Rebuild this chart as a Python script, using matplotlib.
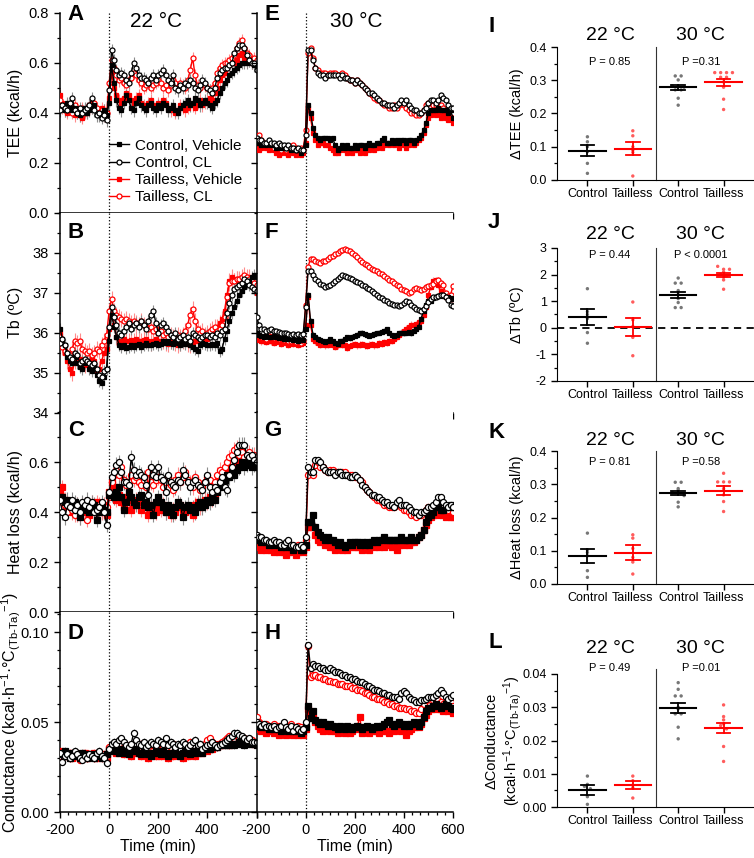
import numpy as np
import matplotlib
matplotlib.use("Agg")
import matplotlib.pyplot as plt
from matplotlib.ticker import MultipleLocator, AutoMinorLocator, FormatStrFormatter

plt.rcParams['font.family'] = ['Liberation Sans', 'DejaVu Sans']
plt.rcParams['mathtext.fontset'] = 'custom'
plt.rcParams['mathtext.rm'] = 'Liberation Sans'
plt.rcParams['mathtext.it'] = 'Liberation Sans:italic'
plt.rcParams['axes.unicode_minus'] = False

# ---------------- time course data (10-min bins, -200..600 min) ----------------
time_min = np.arange(-200, 601, 10)

# TEE, 22 °C
tee22_ctl_veh = [0.42,0.43,0.41,0.44,0.42,0.41,0.42,0.40,0.39,0.41,0.42,0.40,0.41,0.42,0.43,0.40,0.39,0.40,0.41,0.39,
                 0.44,
                 0.59,0.52,0.45,0.42,0.41,0.44,0.47,0.45,0.42,0.41,
                 0.44,0.46,0.43,0.42,0.41,0.43,0.44,0.42,0.41,0.43,
                 0.42,0.44,0.43,0.41,0.42,0.43,0.41,0.40,0.42,0.43,
                 0.44,0.45,0.43,0.44,0.46,0.45,0.43,0.44,0.45,0.44,
                 0.43,0.42,0.44,0.45,0.48,0.50,0.52,0.53,0.55,0.56,
                 0.57,0.58,0.59,0.60,0.60,0.60,0.61,0.60,0.59,0.59]
tee22_ctl_cl = [0.41,0.43,0.42,0.41,0.44,0.46,0.41,0.40,0.42,0.40,0.41,0.42,0.43,0.46,0.41,0.39,0.40,0.38,0.39,0.37,
                0.49,
                0.65,0.61,0.57,0.55,0.56,0.55,0.53,0.52,0.56,0.60,
                0.58,0.55,0.54,0.54,0.53,0.52,0.54,0.55,0.53,0.55,
                0.56,0.57,0.55,0.53,0.52,0.55,0.50,0.49,0.51,0.50,
                0.52,0.51,0.53,0.52,0.50,0.49,0.51,0.53,0.52,0.50,
                0.49,0.48,0.50,0.54,0.56,0.57,0.58,0.58,0.59,0.60,
                0.64,0.66,0.67,0.67,0.66,0.63,0.61,0.60,0.60,0.57]
tee22_tl_veh = [0.47,0.44,0.42,0.40,0.43,0.41,0.39,0.42,0.40,0.38,0.41,0.40,0.42,0.44,0.43,0.41,0.40,0.42,0.41,0.40,
                0.46,
                0.56,0.50,0.47,0.45,0.44,0.46,0.48,0.47,0.45,0.44,
                0.46,0.47,0.44,0.43,0.42,0.44,0.45,0.43,0.42,0.44,
                0.43,0.45,0.44,0.42,0.41,0.42,0.40,0.41,0.43,0.42,
                0.41,0.42,0.44,0.43,0.42,0.44,0.45,0.43,0.44,0.45,
                0.46,0.45,0.48,0.50,0.53,0.55,0.56,0.58,0.59,0.60,
                0.60,0.61,0.63,0.64,0.62,0.61,0.62,0.60,0.61,0.60]
tee22_tl_cl = [0.45,0.42,0.41,0.43,0.42,0.40,0.43,0.41,0.39,0.42,0.40,0.41,0.43,0.42,0.44,0.42,0.40,0.41,0.39,0.40,
               0.52,
               0.61,0.58,0.55,0.53,0.54,0.52,0.51,0.53,0.54,0.56,
               0.55,0.53,0.52,0.50,0.51,0.52,0.50,0.51,0.52,0.53,
               0.52,0.50,0.51,0.49,0.51,0.53,0.52,0.50,0.52,0.51,
               0.50,0.53,0.57,0.62,0.55,0.51,0.50,0.52,0.51,0.50,
               0.49,0.50,0.52,0.56,0.58,0.59,0.60,0.60,0.61,0.62,
               0.63,0.66,0.68,0.69,0.66,0.64,0.63,0.61,0.62,0.61]

# TEE, 30 °C
tee30_ctl_veh = [0.28,0.28,0.27,0.28,0.27,0.28,0.27,0.27,0.26,0.27,0.26,0.26,0.27,0.26,0.25,0.26,0.25,0.25,0.24,0.25,
                 0.27,
                 0.43,0.40,0.34,0.31,0.30,0.29,0.30,0.30,0.30,0.29,
                 0.30,0.27,0.25,0.26,0.27,0.26,0.27,0.26,0.26,0.27,
                 0.26,0.27,0.27,0.26,0.27,0.28,0.27,0.27,0.28,0.28,
                 0.29,0.30,0.28,0.28,0.29,0.28,0.29,0.28,0.29,0.29,
                 0.28,0.29,0.29,0.28,0.29,0.30,0.31,0.33,0.36,0.40,
                 0.41,0.41,0.41,0.42,0.41,0.41,0.41,0.40,0.41,0.38]
tee30_ctl_cl = [0.30,0.29,0.29,0.28,0.28,0.29,0.28,0.28,0.27,0.28,0.27,0.27,0.26,0.27,0.26,0.26,0.25,0.26,0.25,0.25,
                0.31,
                0.65,0.65,0.61,0.58,0.56,0.55,0.55,0.54,0.55,0.55,
                0.55,0.55,0.55,0.54,0.55,0.54,0.54,0.53,0.53,0.52,
                0.53,0.52,0.51,0.50,0.49,0.48,0.48,0.47,0.46,0.45,
                0.44,0.44,0.43,0.43,0.43,0.42,0.43,0.44,0.45,0.44,
                0.45,0.43,0.42,0.41,0.41,0.40,0.40,0.41,0.42,0.44,
                0.45,0.45,0.44,0.45,0.47,0.46,0.45,0.43,0.42,0.42]
tee30_tl_veh = [0.27,0.25,0.26,0.27,0.26,0.25,0.26,0.25,0.24,0.23,0.24,0.25,0.24,0.23,0.25,0.24,0.23,0.24,0.23,0.24,
                0.28,
                0.42,0.38,0.32,0.29,0.27,0.28,0.28,0.27,0.27,0.26,
                0.25,0.24,0.24,0.25,0.26,0.25,0.24,0.25,0.24,0.25,
                0.25,0.24,0.25,0.24,0.26,0.25,0.26,0.25,0.26,0.27,
                0.26,0.27,0.28,0.27,0.28,0.27,0.28,0.26,0.28,0.27,
                0.26,0.27,0.28,0.27,0.28,0.29,0.30,0.32,0.35,0.38,
                0.39,0.40,0.39,0.40,0.38,0.39,0.38,0.37,0.38,0.36]
tee30_tl_cl = [0.30,0.31,0.29,0.28,0.27,0.28,0.27,0.26,0.27,0.26,0.25,0.26,0.25,0.26,0.25,0.27,0.26,0.25,0.26,0.25,
               0.33,
               0.64,0.66,0.62,0.58,0.57,0.56,0.56,0.56,0.55,0.56,
               0.56,0.56,0.55,0.55,0.56,0.55,0.54,0.53,0.53,0.52,
               0.53,0.52,0.51,0.50,0.49,0.48,0.47,0.46,0.45,0.45,
               0.44,0.43,0.43,0.42,0.42,0.43,0.42,0.43,0.44,0.43,
               0.42,0.41,0.40,0.40,0.39,0.39,0.40,0.41,0.43,0.44,
               0.44,0.43,0.43,0.42,0.43,0.42,0.41,0.40,0.41,0.40]

# Tb, 22 °C
tb22_ctl_veh = [36.10,35.85,35.70,35.40,35.30,35.25,35.40,35.25,35.15,35.10,35.25,35.30,35.10,35.05,35.15,34.95,34.80,34.75,34.90,35.10,
                35.80,
                36.45,36.15,35.90,35.70,35.65,35.70,35.62,35.65,35.70,35.65,
                35.68,35.72,35.65,35.70,35.75,35.70,35.68,35.72,35.75,35.70,
                35.72,35.78,35.74,35.80,35.75,35.72,35.78,35.74,35.70,35.76,
                35.72,35.80,35.68,35.65,35.60,35.55,35.70,35.75,35.72,35.68,
                35.70,35.72,35.68,35.75,35.55,35.60,35.85,36.05,36.30,36.50,
                36.65,36.80,36.95,37.05,37.15,37.25,37.30,37.40,37.45,37.40]
tb22_ctl_cl = [35.75,35.85,35.70,35.50,35.40,35.35,35.50,35.45,35.25,35.30,35.35,35.30,35.25,35.20,35.25,35.10,34.95,34.90,35.05,35.10,
               36.15,
               36.65,36.40,36.20,36.00,35.95,36.05,36.15,36.25,36.10,36.20,
               36.25,36.15,36.30,36.20,36.10,36.30,36.45,36.55,36.25,36.00,
               36.20,36.25,36.15,36.05,35.95,35.90,36.00,35.85,35.90,35.95,
               35.85,35.90,35.80,36.00,35.95,35.90,35.85,35.90,35.95,35.95,
               35.90,35.95,35.90,36.00,35.95,36.05,36.10,36.50,36.75,36.95,
               37.10,37.15,37.20,37.25,37.35,37.30,37.20,37.15,37.10,37.05]
tb22_tl_veh = [36.00,35.70,35.50,35.30,35.10,35.00,35.30,35.40,35.35,35.30,35.20,35.25,35.30,35.40,35.30,35.05,35.10,35.30,35.50,35.60,
               36.10,
               36.60,36.20,35.90,35.80,35.75,35.85,35.80,35.78,35.82,35.80,
               35.85,35.80,35.78,35.82,35.85,35.80,35.75,35.80,35.85,35.80,
               35.78,35.80,35.75,35.72,35.80,35.78,35.74,35.70,35.75,35.80,
               35.78,35.72,35.70,35.75,35.80,35.78,35.85,35.80,35.90,35.85,
               35.95,36.00,36.05,36.15,36.25,36.35,36.55,36.95,37.30,37.40,
               37.30,37.35,37.30,37.35,37.30,37.35,37.40,37.30,37.15,37.00]
tb22_tl_cl = [35.90,35.65,35.55,35.50,35.45,35.60,35.80,35.75,35.80,35.60,35.55,35.50,35.55,35.45,35.50,35.60,35.55,35.70,35.80,35.95,
              36.55,
              36.85,36.55,36.45,36.40,36.35,36.30,36.35,36.30,36.25,36.30,
              36.25,36.20,36.30,36.20,36.15,36.10,36.15,36.05,36.10,36.00,
              36.05,35.95,36.00,35.90,35.95,35.90,35.85,35.95,35.90,35.95,
              36.05,36.20,36.45,36.60,36.30,36.10,36.00,36.05,35.95,36.00,
              36.05,36.10,36.15,36.05,36.10,36.20,36.40,36.90,37.25,37.30,
              37.30,37.35,37.35,37.40,37.45,37.40,37.35,37.30,37.25,37.20]

# Tb, 30 °C
tb30_ctl_veh = [36.00,35.95,35.92,35.90,35.92,35.88,35.90,35.92,35.88,35.86,35.88,35.85,35.87,35.84,35.86,35.82,35.84,35.80,35.83,35.82,
                36.10,
                36.95,36.30,35.95,35.90,35.85,35.82,35.78,35.76,35.80,35.83,
                35.78,35.75,35.72,35.78,35.80,35.85,35.88,35.86,35.90,35.92,
                35.95,35.98,36.00,35.96,35.94,35.92,35.95,35.97,35.98,36.00,
                36.02,36.05,36.08,36.00,35.94,35.92,35.95,35.98,36.00,35.98,
                36.00,36.02,35.98,36.05,36.10,36.15,36.35,36.55,36.70,36.78,
                36.80,36.86,36.90,36.92,36.95,36.92,36.90,36.88,36.86,36.83]
tb30_ctl_cl = [36.40,36.20,36.10,36.08,36.05,36.06,36.08,36.05,36.04,36.02,36.00,35.98,35.98,35.96,35.95,35.96,35.95,35.96,35.95,35.97,
               36.65,
               37.55,37.55,37.45,37.35,37.28,37.22,37.18,37.15,37.16,37.20,
               37.24,37.28,37.33,37.38,37.43,37.42,37.40,37.36,37.34,37.30,
               37.27,37.24,37.20,37.16,37.12,37.08,37.03,36.99,36.95,36.90,
               36.86,36.82,36.78,36.75,36.72,36.70,36.68,36.67,36.69,36.73,
               36.78,36.76,36.70,36.65,36.60,36.57,36.54,36.58,36.66,36.76,
               36.84,36.88,36.90,36.92,36.95,36.94,36.90,36.82,36.68,36.66]
tb30_tl_veh = [35.85,35.82,35.78,35.80,35.76,35.80,35.78,35.74,35.76,35.78,35.72,35.76,35.74,35.70,35.75,35.72,35.74,35.70,35.72,35.74,
               36.20,
               36.90,36.20,35.85,35.78,35.75,35.70,35.72,35.68,35.70,35.72,
               35.70,35.65,35.68,35.72,35.70,35.68,35.62,35.66,35.70,35.72,
               35.68,35.70,35.72,35.68,35.66,35.70,35.72,35.68,35.70,35.74,
               35.72,35.76,35.74,35.78,35.80,35.85,35.90,35.95,36.00,36.05,
               36.10,36.15,36.20,36.18,36.22,36.26,36.30,36.45,36.65,36.95,
               37.15,37.30,37.32,37.18,37.05,36.95,36.90,36.88,36.85,36.83]
tb30_tl_cl = [35.95,35.92,35.88,35.90,35.85,35.92,35.88,35.86,35.90,35.84,35.88,35.82,35.85,35.80,35.78,35.82,35.76,35.80,35.75,35.78,
              36.70,
              37.65,37.85,37.85,37.80,37.76,37.74,37.78,37.80,37.84,37.88,
              37.92,37.96,38.00,38.04,38.08,38.10,38.08,38.05,38.00,37.95,
              37.88,37.82,37.76,37.72,37.68,37.64,37.60,37.57,37.53,37.50,
              37.46,37.42,37.36,37.32,37.29,37.25,37.20,37.16,37.10,37.07,
              37.03,36.99,37.02,37.10,37.12,37.08,37.06,37.10,37.15,37.16,
              37.18,37.22,37.28,37.32,37.25,37.18,37.00,36.92,36.95,37.16]

# Heat loss, 22 °C
hl22_ctl_veh = [0.46,0.46,0.44,0.45,0.43,0.42,0.44,0.41,0.38,0.42,0.43,0.41,0.40,0.42,0.43,0.37,0.40,0.42,0.41,0.40,
                0.47,
                0.47,0.46,0.48,0.50,0.46,0.41,0.44,0.48,0.46,0.44,
                0.43,0.46,0.47,0.43,0.44,0.42,0.43,0.39,0.44,0.46,
                0.44,0.42,0.40,0.43,0.41,0.39,0.42,0.44,0.43,0.38,
                0.42,0.43,0.41,0.42,0.40,0.43,0.44,0.42,0.43,0.45,
                0.44,0.46,0.45,0.48,0.50,0.52,0.53,0.55,0.54,0.56,
                0.55,0.57,0.58,0.60,0.58,0.59,0.60,0.58,0.59,0.58]
hl22_ctl_cl = [0.45,0.40,0.38,0.43,0.42,0.45,0.41,0.43,0.40,0.44,0.43,0.45,0.42,0.44,0.40,0.41,0.42,0.44,0.40,0.35,
               0.48,
               0.54,0.56,0.59,0.60,0.56,0.52,0.52,0.51,0.62,0.57,
               0.55,0.56,0.55,0.54,0.51,0.47,0.58,0.55,0.54,0.58,
               0.54,0.53,0.48,0.55,0.52,0.51,0.50,0.53,0.52,0.57,
               0.55,0.52,0.50,0.52,0.53,0.51,0.50,0.49,0.52,0.55,
               0.50,0.48,0.50,0.49,0.52,0.54,0.50,0.49,0.55,0.58,
               0.61,0.64,0.67,0.67,0.67,0.63,0.62,0.63,0.61,0.60]
hl22_tl_veh = [0.48,0.50,0.45,0.41,0.43,0.40,0.42,0.39,0.41,0.43,0.40,0.42,0.39,0.43,0.42,0.44,0.40,0.41,0.43,0.39,
               0.48,
               0.52,0.50,0.45,0.47,0.44,0.42,0.46,0.45,0.41,0.43,
               0.45,0.44,0.41,0.43,0.42,0.39,0.43,0.41,0.40,0.42,
               0.41,0.43,0.40,0.42,0.39,0.41,0.40,0.42,0.43,0.41,
               0.40,0.42,0.41,0.39,0.43,0.44,0.42,0.43,0.45,0.44,
               0.46,0.45,0.47,0.50,0.52,0.55,0.54,0.56,0.58,0.57,
               0.58,0.60,0.62,0.64,0.61,0.60,0.62,0.61,0.60,0.59]
hl22_tl_cl = [0.42,0.44,0.43,0.40,0.42,0.41,0.39,0.43,0.38,0.42,0.43,0.37,0.41,0.44,0.40,0.42,0.43,0.40,0.41,0.42,
              0.46,
              0.52,0.55,0.57,0.55,0.58,0.53,0.51,0.52,0.55,0.53,
              0.54,0.52,0.51,0.53,0.50,0.56,0.52,0.51,0.53,0.54,
              0.53,0.50,0.52,0.54,0.51,0.49,0.53,0.55,0.52,0.54,
              0.56,0.53,0.52,0.50,0.54,0.52,0.49,0.50,0.52,0.54,
              0.53,0.50,0.52,0.55,0.57,0.56,0.58,0.60,0.62,0.63,
              0.65,0.66,0.63,0.64,0.62,0.63,0.64,0.62,0.63,0.62]

# Heat loss, 30 °C
hl30_ctl_veh = [0.29,0.29,0.28,0.29,0.28,0.27,0.28,0.27,0.28,0.27,0.26,0.27,0.26,0.27,0.26,0.25,0.26,0.26,0.25,0.25,
                0.27,
                0.36,0.36,0.39,0.34,0.32,0.31,0.30,0.29,0.30,0.29,
                0.29,0.28,0.27,0.28,0.27,0.26,0.27,0.28,0.27,0.28,
                0.28,0.27,0.28,0.27,0.28,0.27,0.28,0.29,0.28,0.29,
                0.29,0.30,0.29,0.29,0.29,0.29,0.29,0.29,0.30,0.29,
                0.29,0.29,0.30,0.29,0.29,0.30,0.31,0.33,0.36,0.38,
                0.39,0.40,0.42,0.42,0.41,0.41,0.42,0.42,0.43,0.42]
hl30_ctl_cl = [0.31,0.30,0.30,0.29,0.29,0.28,0.28,0.29,0.28,0.28,0.27,0.27,0.28,0.29,0.27,0.27,0.26,0.26,0.27,0.26,
               0.30,
               0.58,0.56,0.56,0.61,0.61,0.60,0.58,0.57,0.56,0.56,
               0.56,0.55,0.56,0.56,0.55,0.55,0.55,0.54,0.54,0.55,
               0.54,0.53,0.51,0.50,0.49,0.48,0.47,0.47,0.46,0.46,
               0.45,0.44,0.44,0.43,0.43,0.42,0.44,0.45,0.43,0.43,
               0.43,0.42,0.41,0.40,0.40,0.39,0.40,0.40,0.41,0.42,
               0.42,0.43,0.44,0.46,0.46,0.44,0.43,0.42,0.43,0.42]
hl30_tl_veh = [0.27,0.26,0.25,0.26,0.25,0.26,0.25,0.24,0.25,0.24,0.25,0.24,0.23,0.24,0.25,0.24,0.23,0.24,0.25,0.24,
               0.26,
               0.34,0.34,0.34,0.31,0.29,0.28,0.29,0.27,0.27,0.26,
               0.26,0.25,0.27,0.26,0.25,0.26,0.25,0.26,0.27,0.26,
               0.26,0.27,0.25,0.27,0.26,0.25,0.27,0.26,0.27,0.26,
               0.27,0.26,0.28,0.27,0.26,0.28,0.25,0.27,0.28,0.27,
               0.28,0.27,0.28,0.28,0.29,0.30,0.31,0.33,0.35,0.37,
               0.38,0.39,0.40,0.39,0.40,0.39,0.38,0.39,0.38,0.38]
hl30_tl_cl = [0.30,0.29,0.29,0.28,0.28,0.27,0.27,0.28,0.27,0.26,0.27,0.26,0.27,0.28,0.27,0.26,0.26,0.27,0.26,0.27,
              0.29,
              0.55,0.56,0.55,0.59,0.60,0.58,0.58,0.57,0.56,0.57,
              0.57,0.56,0.56,0.56,0.56,0.56,0.55,0.55,0.55,0.54,
              0.54,0.53,0.52,0.50,0.49,0.48,0.47,0.46,0.45,0.45,
              0.44,0.43,0.43,0.42,0.42,0.42,0.43,0.43,0.42,0.41,
              0.41,0.40,0.39,0.39,0.38,0.39,0.39,0.40,0.41,0.42,
              0.41,0.42,0.42,0.43,0.42,0.41,0.42,0.41,0.42,0.40]

# Conductance, 22 °C
cd22_ctl_veh = [0.033,0.032,0.034,0.031,0.030,0.033,0.032,0.031,0.030,0.033,0.032,0.030,0.031,0.032,0.030,0.031,0.032,0.030,0.031,0.032,
                0.034,
                0.036,0.035,0.034,0.033,0.035,0.034,0.033,0.032,0.034,0.035,
                0.034,0.033,0.032,0.034,0.033,0.032,0.031,0.033,0.034,0.033,
                0.032,0.034,0.033,0.031,0.032,0.033,0.034,0.032,0.031,0.033,
                0.034,0.033,0.032,0.034,0.033,0.035,0.034,0.033,0.035,0.036,
                0.035,0.036,0.037,0.036,0.037,0.038,0.037,0.038,0.037,0.038,
                0.037,0.038,0.039,0.038,0.037,0.038,0.039,0.038,0.038,0.037]
cd22_ctl_cl = [0.033,0.028,0.031,0.032,0.030,0.031,0.034,0.032,0.030,0.029,0.031,0.030,0.032,0.031,0.030,0.033,0.034,0.031,0.030,0.027,
               0.035,
               0.038,0.039,0.038,0.040,0.041,0.039,0.037,0.036,0.038,0.044,
               0.040,0.038,0.037,0.039,0.036,0.037,0.039,0.038,0.037,0.040,
               0.039,0.038,0.041,0.037,0.039,0.038,0.036,0.038,0.037,0.039,
               0.038,0.036,0.037,0.039,0.040,0.037,0.038,0.035,0.036,0.037,
               0.038,0.039,0.037,0.036,0.037,0.038,0.039,0.040,0.041,0.042,
               0.044,0.044,0.043,0.042,0.041,0.040,0.041,0.039,0.039,0.039]
cd22_tl_veh = [0.034,0.033,0.032,0.031,0.033,0.030,0.031,0.032,0.030,0.031,0.033,0.030,0.032,0.031,0.033,0.030,0.031,0.032,0.031,0.030,
               0.035,
               0.036,0.034,0.033,0.035,0.034,0.032,0.033,0.034,0.031,0.033,
               0.034,0.033,0.031,0.032,0.034,0.030,0.032,0.033,0.031,0.032,
               0.031,0.033,0.032,0.030,0.032,0.031,0.033,0.032,0.031,0.030,
               0.032,0.031,0.033,0.032,0.031,0.033,0.034,0.033,0.035,0.034,
               0.036,0.035,0.037,0.036,0.038,0.037,0.039,0.038,0.037,0.039,
               0.038,0.039,0.040,0.039,0.038,0.039,0.040,0.039,0.038,0.038]
cd22_tl_cl = [0.031,0.033,0.032,0.031,0.030,0.032,0.031,0.033,0.029,0.032,0.031,0.030,0.032,0.031,0.030,0.032,0.031,0.030,0.032,0.031,
              0.036,
              0.037,0.038,0.036,0.037,0.038,0.036,0.037,0.035,0.037,0.038,
              0.037,0.036,0.038,0.035,0.037,0.036,0.038,0.037,0.036,0.035,
              0.037,0.036,0.035,0.037,0.036,0.038,0.037,0.036,0.035,0.037,
              0.036,0.038,0.039,0.037,0.036,0.035,0.036,0.037,0.038,0.040,
              0.041,0.039,0.038,0.037,0.038,0.039,0.040,0.041,0.042,0.042,
              0.041,0.042,0.041,0.040,0.041,0.040,0.039,0.040,0.039,0.039]

# Conductance, 30 °C
cd30_ctl_veh = [0.049,0.048,0.047,0.048,0.047,0.046,0.047,0.046,0.047,0.046,0.045,0.047,0.046,0.045,0.046,0.045,0.046,0.045,0.044,0.045,
                0.047,
                0.059,0.052,0.056,0.051,0.050,0.049,0.050,0.049,0.048,0.049,
                0.048,0.047,0.046,0.048,0.047,0.046,0.048,0.047,0.046,0.047,
                0.048,0.047,0.046,0.047,0.048,0.047,0.046,0.047,0.048,0.047,
                0.048,0.049,0.050,0.051,0.049,0.048,0.049,0.050,0.049,0.048,
                0.049,0.048,0.049,0.050,0.049,0.048,0.050,0.053,0.056,0.058,
                0.058,0.059,0.060,0.059,0.058,0.059,0.060,0.059,0.058,0.057]
cd30_ctl_cl = [0.050,0.049,0.048,0.049,0.047,0.048,0.047,0.048,0.046,0.047,0.048,0.050,0.047,0.046,0.048,0.045,0.047,0.046,0.045,0.046,
               0.050,
               0.093,0.080,0.082,0.081,0.081,0.080,0.080,0.079,0.079,0.080,
               0.079,0.078,0.078,0.077,0.076,0.076,0.075,0.075,0.074,0.074,
               0.073,0.072,0.072,0.071,0.070,0.070,0.069,0.068,0.068,0.067,
               0.066,0.066,0.065,0.065,0.064,0.064,0.064,0.063,0.066,0.067,
               0.066,0.064,0.063,0.062,0.061,0.061,0.062,0.062,0.063,0.064,
               0.064,0.064,0.065,0.066,0.068,0.066,0.064,0.063,0.064,0.065]
cd30_tl_veh = [0.047,0.046,0.045,0.046,0.044,0.045,0.046,0.044,0.045,0.043,0.044,0.045,0.043,0.044,0.045,0.043,0.044,0.043,0.044,0.043,
               0.046,
               0.057,0.054,0.053,0.050,0.048,0.046,0.045,0.047,0.046,0.045,
               0.046,0.045,0.044,0.046,0.045,0.044,0.045,0.044,0.045,0.046,
               0.047,0.053,0.044,0.045,0.046,0.044,0.045,0.046,0.045,0.044,
               0.045,0.046,0.045,0.044,0.046,0.045,0.047,0.046,0.045,0.046,
               0.043,0.045,0.046,0.047,0.048,0.047,0.049,0.052,0.054,0.056,
               0.057,0.058,0.057,0.058,0.057,0.056,0.057,0.056,0.057,0.055]
cd30_tl_cl = [0.053,0.050,0.049,0.048,0.049,0.048,0.047,0.049,0.047,0.048,0.046,0.047,0.048,0.046,0.049,0.047,0.046,0.048,0.047,0.046,
              0.048,
              0.092,0.075,0.076,0.076,0.075,0.075,0.074,0.074,0.073,0.073,
              0.072,0.072,0.071,0.071,0.071,0.070,0.070,0.070,0.069,0.069,
              0.068,0.068,0.067,0.066,0.066,0.065,0.064,0.064,0.063,0.063,
              0.062,0.061,0.061,0.060,0.060,0.059,0.059,0.058,0.058,0.058,
              0.057,0.057,0.056,0.056,0.055,0.055,0.057,0.060,0.062,0.063,
              0.062,0.062,0.061,0.062,0.061,0.060,0.061,0.060,0.061,0.059]

# typical SEM per panel: ctl_veh, ctl_cl, tl_veh, tl_cl
sem_tee22 = [0.025, 0.025, 0.025, 0.025]
sem_tee30 = [0.008, 0.008, 0.008, 0.008]
sem_tb22 = [0.15, 0.15, 0.2, 0.2]
sem_tb30 = [0.06, 0.06, 0.08, 0.06]
sem_hl22 = [0.03, 0.03, 0.03, 0.03]
sem_hl30 = [0.01, 0.01, 0.01, 0.01]
sem_cd22 = [0.002, 0.002, 0.002, 0.002]
sem_cd30 = [0.0015, 0.0015, 0.0015, 0.0015]

legend_labels = ["Control, Vehicle", "Control, CL", "Tailless, Vehicle", "Tailless, CL"]

# ---------------- delta (CL - vehicle) dot plots ----------------
groups = ["Control", "Tailless", "Control", "Tailless"]
p_texts = {
    "I": ["P = 0.85", "P =0.31"],
    "J": ["P = 0.44", "P < 0.0001"],
    "K": ["P = 0.81", "P =0.58"],
    "L": ["P = 0.49", "P =0.01"],
}
d_tee = [[0.130, 0.115, 0.100, 0.085, 0.050, 0.020],
         [0.148, 0.133, 0.100, 0.090, 0.083, 0.012],
         [0.313, 0.313, 0.301, 0.283, 0.283, 0.279, 0.271, 0.271, 0.246, 0.225],
         [0.323, 0.323, 0.323, 0.323, 0.309, 0.309, 0.295, 0.279, 0.243, 0.212]]
d_tee_mean = [0.088, 0.094, 0.279, 0.294]
d_tee_sem = [0.017, 0.019, 0.008, 0.011]

d_tb = [[1.47, 0.61, 0.50, 0.35, -0.18, -0.58],
        [0.97, 0.30, 0.05, -0.36, -1.05],
        [1.87, 1.68, 1.68, 1.40, 1.25, 1.10, 0.95, 0.76, 0.76],
        [2.31, 2.20, 2.20, 2.10, 2.00, 1.95, 1.90, 1.80, 1.45]]
d_tb_mean = [0.40, 0.03, 1.24, 1.99]
d_tb_sem = [0.30, 0.35, 0.12, 0.08]

d_hl = [[0.153, 0.103, 0.095, 0.085, 0.040, 0.020],
        [0.148, 0.138, 0.107, 0.080, 0.066, 0.030],
        [0.306, 0.306, 0.287, 0.282, 0.275, 0.275, 0.266, 0.246, 0.232],
        [0.333, 0.307, 0.307, 0.307, 0.287, 0.281, 0.268, 0.248, 0.218]]
d_hl_mean = [0.085, 0.094, 0.275, 0.281]
d_hl_sem = [0.021, 0.022, 0.006, 0.013]

d_cd = [[0.0093, 0.0068, 0.0062, 0.0055, 0.0031, 0.0008],
        [0.0093, 0.0079, 0.0066, 0.0058, 0.0027],
        [0.0374, 0.0354, 0.0334, 0.0334, 0.0300, 0.0295, 0.0280, 0.0280, 0.0240, 0.0205],
        [0.0307, 0.0272, 0.0262, 0.0250, 0.0245, 0.0235, 0.0182, 0.0137]]
d_cd_mean = [0.0051, 0.0066, 0.0298, 0.0238]
d_cd_sem = [0.0014, 0.0012, 0.0015, 0.0015]

cond_label = r"(kcal·h$^{-1}$·°C$_{\mathrm{(Tb\text{-}Ta)}}$$^{-1}$)"

# ---------------- figure ----------------
fig = plt.figure(figsize=(7.54, 8.58), dpi=100)

L, R, T, B = 60 / 754, 453 / 754, 1 - 13 / 858, 1 - 812 / 858
col_w = (R - L) / 2
row_h = (T - B) / 4

RED = '#ff0000'
GREY_ERR = '#8c8c8c'
PINK_ERR = '#ff8c8c'


def draw_course(ax, series, sems, ms):
    ctl_veh, ctl_cl, tl_veh, tl_cl = series
    handles = []
    specs = [
        (tl_veh, sems[2], RED, PINK_ERR, 's', RED, 3),
        (tl_cl, sems[3], RED, PINK_ERR, 'o', 'white', 4),
        (ctl_veh, sems[0], 'black', GREY_ERR, 's', 'black', 5),
        (ctl_cl, sems[1], 'black', GREY_ERR, 'o', 'white', 6),
    ]
    for y, s, c, ec, mk, fc, z in specs:
        ax.errorbar(time_min, y, yerr=s, fmt='none', ecolor=ec, elinewidth=0.8, zorder=2)
    for y, s, c, ec, mk, fc, z in specs:
        msz = ms * 0.85 if mk == 's' else ms
        h, = ax.plot(time_min, y, color=c, lw=1.0, marker=mk, ms=msz, mfc=fc, mec=c,
                     mew=0.9, zorder=z)
        handles.append(h)
    ax.axvline(0, color='black', ls=':', lw=0.9, zorder=1)
    return [handles[2], handles[3], handles[0], handles[1]]


rows = [
    ("TEE (kcal/h)", (0, 0.8), [0, 0.2, 0.4, 0.6, 0.8], 0.1, '%.1f',
     [tee22_ctl_veh, tee22_ctl_cl, tee22_tl_veh, tee22_tl_cl], sem_tee22,
     [tee30_ctl_veh, tee30_ctl_cl, tee30_tl_veh, tee30_tl_cl], sem_tee30, 3.6, ("A", "E"), 0.99),
    ("Tb (ºC)", (34, 39), [34, 35, 36, 37, 38], 0.5, '%d',
     [tb22_ctl_veh, tb22_ctl_cl, tb22_tl_veh, tb22_tl_cl], sem_tb22,
     [tb30_ctl_veh, tb30_ctl_cl, tb30_tl_veh, tb30_tl_cl], sem_tb30, 3.6, ("B", "F"), 0.90),
    ("Heat loss (kcal/h)", (0, 0.8), [0, 0.2, 0.4, 0.6], 0.1, '%.1f',
     [hl22_ctl_veh, hl22_ctl_cl, hl22_tl_veh, hl22_tl_cl], sem_hl22,
     [hl30_ctl_veh, hl30_ctl_cl, hl30_tl_veh, hl30_tl_cl], sem_hl30, 4.4, ("C", "G"), 0.91),
    ("Conductance " + cond_label, (0, 0.111), [0, 0.05, 0.10], 0.01, '%.2f',
     [cd22_ctl_veh, cd22_ctl_cl, cd22_tl_veh, cd22_tl_cl], sem_cd22,
     [cd30_ctl_veh, cd30_ctl_cl, cd30_tl_veh, cd30_tl_cl], sem_cd30, 4.4, ("D", "H"), 0.895),
]

for r, (ylab, ylim, yt, ymin, yfmt, s22, e22, s30, e30, ms, letters, ly) in enumerate(rows):
    bottom = T - (r + 1) * row_h
    ax1 = fig.add_axes([L, bottom, col_w, row_h])
    ax2 = fig.add_axes([L + col_w, bottom, col_w, row_h], sharey=ax1)
    h = draw_course(ax1, s22, e22, ms)
    draw_course(ax2, s30, e30, ms)
    for ax, letter in zip((ax1, ax2), letters):
        ax.set_xlim(-200, 600)
        ax.set_ylim(*ylim)
        ax.set_yticks(yt)
        ax.yaxis.set_minor_locator(MultipleLocator(ymin))
        ax.yaxis.set_major_formatter(FormatStrFormatter(yfmt))
        ax.set_xticks([-200, 0, 200, 400, 600])
        ax.xaxis.set_minor_locator(AutoMinorLocator(6))
        for side in ('top', 'right'):
            ax.spines[side].set_visible(False)
        ax.spines['left'].set_linewidth(1.1)
        ax.spines['bottom'].set_linewidth(1.1)
        ax.tick_params(which='major', length=4.5, width=1.0, labelsize=10.5)
        ax.tick_params(which='minor', length=2.5, width=0.9)
        ax.text(0.04, ly, letter, transform=ax.transAxes, fontsize=16, fontweight='bold',
                va='center', ha='left')
    ax2.tick_params(labelleft=False)
    if r < 3:
        ax1.tick_params(labelbottom=False)
        ax2.tick_params(labelbottom=False)
    else:
        ax1.set_xticklabels(['-200', '0', '200', '400', ''])
        ax2.set_xticklabels(['-200', '0', '200', '400', '600'])
        ax1.set_xlabel("Time (min)", fontsize=11.5, labelpad=1)
        ax2.set_xlabel("Time (min)", fontsize=11.5, labelpad=1)
    ax1.set_ylabel(ylab, fontsize=11.5)
    ax1.yaxis.set_label_coords(-0.19, 0.5)
    if r == 0:
        ax1.text(0.49, 0.955, "22 °C", transform=ax1.transAxes, fontsize=15, ha='center', va='center')
        ax2.text(0.51, 0.955, "30 °C", transform=ax2.transAxes, fontsize=15, ha='center', va='center')
        ax1.legend(h, legend_labels, loc='upper left', bbox_to_anchor=(0.25, 0.37), frameon=False,
                   fontsize=11, handlelength=1.3, handletextpad=0.4, labelspacing=0.2,
                   borderaxespad=0, borderpad=0)

# ---------------- right column ----------------
RL, RW, RH = 557 / 754, 197 / 754, 133 / 858
right_panels = [
    ("I", 180, "ΔTEE (kcal/h)", d_tee, d_tee_mean, d_tee_sem, (0, 0.4), 0.1, 0.05, '%.1f',
     1.083, 0.887, 27, False),
    ("J", 381, "ΔTb (ºC)", d_tb, d_tb_mean, d_tb_sem, (-2, 3), 1, 0.5, '%d',
     1.098, 0.95, 222, True),
    ("K", 584, "ΔHeat loss (kcal/h)", d_hl, d_hl_mean, d_hl_sem, (0, 0.4), 0.1, 0.05, '%.1f',
     1.077, 0.92, 432, False),
    ("L", 807, "ΔConductance\n" + cond_label, d_cd, d_cd_mean, d_cd_sem,
     (0, 0.04), 0.01, 0.005, '%.2f', 1.19, 1.043, 643, False),
]
dot_colors = ['#777777', '#ff5c5c', '#777777', '#ff5c5c']
line_colors = ['black', RED, 'black', RED]

for letter, ybot, ylab, pts, means, sems, ylim, ymaj, ymin, yfmt, ty, py, ly, zero in right_panels:
    ax = fig.add_axes([RL, 1 - ybot / 858, RW, RH])
    span = ylim[1] - ylim[0]
    for i, vals in enumerate(pts):
        vals = np.asarray(vals)
        # spread near-equal values sideways (dot plot)
        bins = np.round(vals / (span * 0.025)).astype(int)
        xs = np.full(len(vals), float(i))
        for b in np.unique(bins):
            idx = np.where(bins == b)[0]
            xs[idx] = i + (np.arange(len(idx)) - (len(idx) - 1) / 2) * 0.13
        ax.scatter(xs, vals, s=6, color=dot_colors[i], edgecolors='none', zorder=2)
        ax.plot([i - 0.4, i + 0.4], [means[i], means[i]], color=line_colors[i], lw=1.5, zorder=3)
        ax.plot([i, i], [means[i] - sems[i], means[i] + sems[i]], color=line_colors[i], lw=1.3, zorder=3)
        for yy in (means[i] - sems[i], means[i] + sems[i]):
            ax.plot([i - 0.15, i + 0.15], [yy, yy], color=line_colors[i], lw=1.3, zorder=3)
    ax.set_xlim(-0.67, 3.67)
    ax.set_ylim(*ylim)
    ax.set_xticks(range(4))
    ax.set_xticklabels(groups, fontsize=8.5)
    ax.yaxis.set_major_locator(MultipleLocator(ymaj))
    ax.yaxis.set_minor_locator(MultipleLocator(ymin))
    ax.yaxis.set_major_formatter(FormatStrFormatter(yfmt))
    for side in ('top', 'right'):
        ax.spines[side].set_visible(False)
    ax.tick_params(which='major', length=4, width=1.0, labelsize=9)
    ax.tick_params(which='minor', length=2.2, width=0.9)
    ax.tick_params(axis='x', pad=2)
    ax.axvline(1.5, ymin=0, ymax=ty - 0.15 if letter == "L" else 1.0, color='#333333', lw=0.8, clip_on=False)
    if zero:
        ax.axhline(0, color='black', ls='--', lw=1.3, dashes=(4, 3), zorder=1)
    ax.set_ylabel(ylab, fontsize=10.5, linespacing=1.1)
    ax.yaxis.set_label_coords(-0.17, 0.5)
    ax.text(0.5, ty, "22 °C", transform=ax.get_xaxis_transform(), fontsize=14, ha='center', va='center')
    ax.text(2.5, ty, "30 °C", transform=ax.get_xaxis_transform(), fontsize=14, ha='center', va='center')
    ax.text(0.5, py, p_texts[letter][0], transform=ax.get_xaxis_transform(), fontsize=8, ha='center', va='center')
    ax.text(2.5, py, p_texts[letter][1], transform=ax.get_xaxis_transform(), fontsize=8, ha='center', va='center')
    fig.text(488 / 754, 1 - ly / 858, letter, fontsize=16, fontweight='bold', ha='left', va='center')

fig.savefig("out.png", dpi=100)
